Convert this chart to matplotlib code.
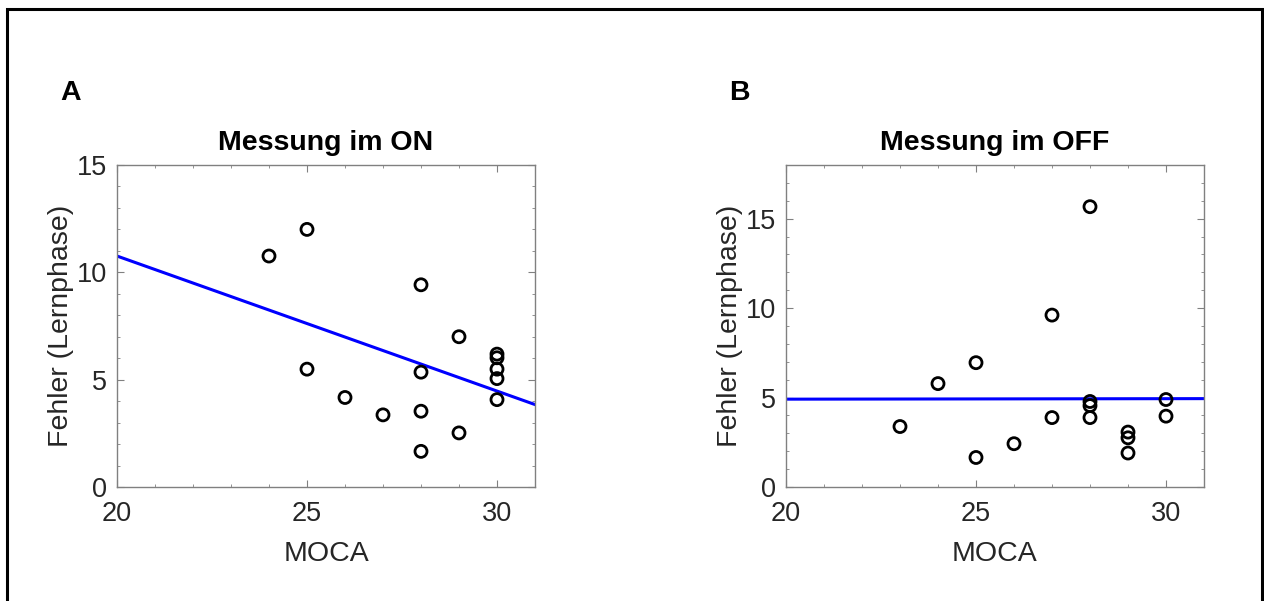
import matplotlib
matplotlib.use("Agg")
import matplotlib.pyplot as plt
from matplotlib.patches import Rectangle
from matplotlib.ticker import MultipleLocator

# ---- data ----
moca_on = [24, 25, 25, 26, 27, 28, 28, 28, 28, 29, 29, 30, 30, 30, 30, 30]
fehler_on = [10.76, 12.0, 5.49, 4.17, 3.36, 9.42, 5.35, 3.53, 1.66, 7.0, 2.52,
             6.19, 6.02, 5.49, 5.05, 4.07]
fit_on_x = [20, 31]
fit_on_y = [10.76, 3.84]

moca_off = [23, 24, 25, 25, 26, 27, 27, 28, 28, 28, 28, 29, 29, 29, 30, 30]
fehler_off = [3.38, 5.78, 6.95, 1.65, 2.42, 9.61, 3.88, 15.67, 4.78, 4.55, 3.88,
              3.07, 2.75, 1.90, 4.89, 3.96]
fit_off_x = [20, 31]
fit_off_y = [4.91, 4.94]

titles = ["Messung im ON", "Messung im OFF"]
panel_labels = ["A", "B"]
xlabel = "MOCA"
ylabel = "Fehler (Lernphase)"
xticks = [20, 25, 30]
yticks_on = [0, 5, 10, 15]
yticks_off = [0, 5, 10, 15]

plt.rcParams['font.family'] = ['Liberation Sans', 'DejaVu Sans']

W, H = 1264, 601
fig = plt.figure(figsize=(W / 100, H / 100), dpi=100)

def px_axes(l, t, r, b):
    return fig.add_axes([l / W, 1 - b / H, (r - l) / W, (b - t) / H])

ax1 = px_axes(117, 165, 535, 487)
ax2 = px_axes(786, 165, 1204, 487)

tick_col = '#262626'
spine_col = '#808080'

def style(ax, xs, ys, fx, fy, title, ylim, yticks):
    ax.scatter(xs, ys, s=75, facecolors='none', edgecolors='black', linewidths=2.0, zorder=3)
    ax.plot(fx, fy, color='#0000ff', lw=2.2, zorder=2)
    ax.set_xlim(20, 31)
    ax.set_ylim(*ylim)
    ax.set_xticks(xticks)
    ax.set_yticks(yticks)
    ax.xaxis.set_minor_locator(MultipleLocator(1))
    ax.yaxis.set_minor_locator(MultipleLocator(1))
    ax.tick_params(which='both', direction='in', top=True, right=True,
                   colors=spine_col, labelcolor=tick_col, labelsize=19.5)
    ax.tick_params(which='major', length=5, width=0.8)
    ax.tick_params(axis='x', which='major', pad=10)
    ax.tick_params(axis='y', which='major', pad=7)
    ax.tick_params(which='minor', length=2.5, width=0.6)
    for sp in ax.spines.values():
        sp.set_color(spine_col)
        sp.set_linewidth(1.0)
    ax.set_title(title, fontsize=20.5, fontweight='bold', color='black', pad=11)
    ax.set_xlabel(xlabel, fontsize=20.5, color=tick_col, labelpad=10)
    ax.set_ylabel(ylabel, fontsize=20.5, color=tick_col, labelpad=2)

style(ax1, moca_on, fehler_on, fit_on_x, fit_on_y, titles[0], (0, 15), yticks_on)
style(ax2, moca_off, fehler_off, fit_off_x, fit_off_y, titles[1], (0, 18), yticks_off)

fig.text(60 / W, 1 - 93 / H, panel_labels[0], fontsize=20.5, fontweight='bold', va='center', ha='left')
fig.text(729 / W, 1 - 93 / H, panel_labels[1], fontsize=20.5, fontweight='bold', va='center', ha='left')

fig.patches.append(Rectangle((7 / W, -0.05), (1262 - 7) / W, 1.05 - 9 / H,
                             transform=fig.transFigure, fill=False,
                             edgecolor='black', linewidth=2.2))

fig.savefig("out.png", dpi=100, facecolor='white')
